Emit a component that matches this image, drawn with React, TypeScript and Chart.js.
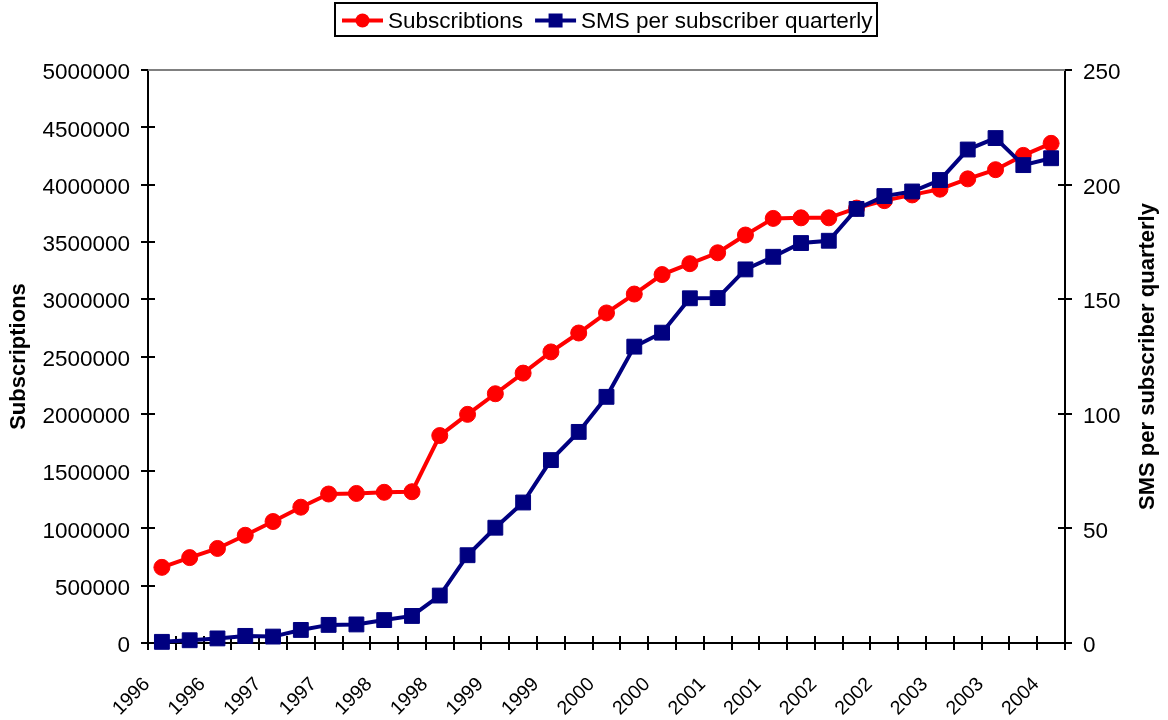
import React, { useEffect, useRef } from "react";
import { Chart, registerables } from "chart.js";

Chart.register(...registerables);

const FONT = "'Liberation Sans', Arial, Helvetica, sans-serif";
const FONT_SIZE = 22.5;
const X_FONT_SIZE = 19.5;

// one category per quarter, 1996 Q1 .. 2004 Q1
const quarterYears = [
  "1996", "1996", "1996", "1996",
  "1997", "1997", "1997", "1997",
  "1998", "1998", "1998", "1998",
  "1999", "1999", "1999", "1999",
  "2000", "2000", "2000", "2000",
  "2001", "2001", "2001", "2001",
  "2002", "2002", "2002", "2002",
  "2003", "2003", "2003", "2003",
  "2004",
];

const subscriptions = [
  660000, 745000, 825000, 940000, 1060000, 1185000, 1300000, 1305000,
  1315000, 1320000, 1810000, 1995000, 2175000, 2355000, 2540000, 2705000,
  2880000, 3045000, 3215000, 3310000, 3405000, 3560000, 3705000, 3710000,
  3710000, 3795000, 3860000, 3910000, 3960000, 4050000, 4130000, 4255000,
  4360000,
];

const smsPerSubscriber = [
  0.5, 1.2, 2, 3.1, 2.8, 5.7, 7.9, 8.1,
  10, 11.8, 20.7, 38.3, 50.3, 61.3, 79.8, 92.1,
  107.4, 129.3, 135.4, 150.4, 150.5, 163, 168.5, 174.5,
  175.5, 189.4, 195, 197, 202, 215.3, 220.3, 208.5,
  211.5,
];

const seriesNames = ["Subscribtions", "SMS per subscriber quarterly"];
const leftTitle = "Subscriptions";
const rightTitle = "SMS per subscriber quarterly";
const leftAxisMax = 5000000;
const leftAxisStep = 500000;
const rightAxisMax = 250;
const rightAxisStep = 50;

const RED = "#FF0000";
const NAVY = "#000080";

const innerTicksPlugin = {
  id: "innerTicks",
  beforeDatasetsDraw(chart: any) {
    const { ctx, chartArea } = chart;
    const xs = chart.scales.x;
    const yl = chart.scales.y;
    const yr = chart.scales.y1;
    ctx.save();
    ctx.strokeStyle = "#000";
    ctx.lineWidth = 2;
    ctx.beginPath();
    for (let i = 0; i <= quarterYears.length; i++) {
      const px = Math.round(xs.getPixelForValue(i - 0.5));
      ctx.moveTo(px, chartArea.bottom);
      ctx.lineTo(px, chartArea.bottom - 7);
    }
    yl.ticks.forEach((_t: any, i: number) => {
      const py = Math.round(yl.getPixelForTick(i));
      ctx.moveTo(chartArea.left, py);
      ctx.lineTo(chartArea.left + 7, py);
    });
    yr.ticks.forEach((_t: any, i: number) => {
      const py = Math.round(yr.getPixelForTick(i));
      ctx.moveTo(chartArea.right, py);
      ctx.lineTo(chartArea.right - 7, py);
    });
    ctx.stroke();
    // top frame line
    ctx.strokeStyle = "#808080";
    ctx.lineWidth = 2;
    ctx.beginPath();
    ctx.moveTo(chartArea.left, chartArea.top);
    ctx.lineTo(chartArea.right, chartArea.top);
    ctx.stroke();
    ctx.restore();
  },
};

const titlesAndLegendPlugin = {
  id: "titlesAndLegend",
  afterDraw(chart: any) {
    const { ctx, chartArea } = chart;
    const midY = (chartArea.top + chartArea.bottom) / 2;
    ctx.save();
    ctx.fillStyle = "#000";
    ctx.font = `bold 22px ${FONT}`;
    ctx.textAlign = "center";
    ctx.textBaseline = "middle";
    // left axis title
    ctx.save();
    ctx.translate(19, midY);
    ctx.rotate(-Math.PI / 2);
    ctx.fillText(leftTitle, 0, 0);
    ctx.restore();
    // right axis title (reads upward)
    ctx.save();
    ctx.translate(chart.width - 20, midY);
    ctx.rotate(-Math.PI / 2);
    ctx.fillText(rightTitle, 0, 0);
    ctx.restore();

    // legend
    ctx.font = `${FONT_SIZE}px ${FONT}`;
    const datasets = chart.data.datasets;
    const lineLen = 41;
    const gapAfterLine = 5;
    const gapBetween = 12;
    const padL = 7;
    const padR = 5;
    const widths = datasets.map((d: any) => ctx.measureText(d.label).width);
    let total = padL + padR + gapBetween * (datasets.length - 1);
    datasets.forEach((_d: any, i: number) => {
      total += lineLen + gapAfterLine + widths[i];
    });
    const cx = (chartArea.left + chartArea.right) / 2;
    const boxTop = 3;
    const boxH = 33;
    let x = Math.round(cx - total / 2);
    ctx.strokeStyle = "#000";
    ctx.lineWidth = 2;
    ctx.strokeRect(x, boxTop, Math.round(total), boxH);
    x += padL;
    const markY = 20.5;
    datasets.forEach((d: any, i: number) => {
      ctx.strokeStyle = d.borderColor;
      ctx.fillStyle = d.borderColor;
      ctx.lineWidth = 4;
      ctx.beginPath();
      ctx.moveTo(x, markY);
      ctx.lineTo(x + lineLen, markY);
      ctx.stroke();
      const mx = x + lineLen / 2;
      ctx.beginPath();
      if (d.pointStyle === "rect") {
        ctx.rect(mx - 7, markY - 7, 14, 14);
      } else {
        ctx.arc(mx, markY, 7, 0, Math.PI * 2);
      }
      ctx.fill();
      ctx.fillStyle = "#000";
      ctx.textAlign = "left";
      ctx.textBaseline = "middle";
      ctx.fillText(d.label, x + lineLen + gapAfterLine, 22);
      x += lineLen + gapAfterLine + widths[i] + gapBetween;
    });
    ctx.restore();
  },
};

export default function App() {
  const canvasRef = useRef<HTMLCanvasElement | null>(null);

  useEffect(() => {
    document.body.style.margin = "0";
    const canvas = canvasRef.current;
    if (!canvas) return;
    const tickFont = { family: FONT, size: FONT_SIZE };
    const chart = new Chart(canvas, {
      type: "line",
      data: {
        labels: quarterYears,
        datasets: [
          {
            label: seriesNames[0],
            data: subscriptions,
            yAxisID: "y",
            borderColor: RED,
            backgroundColor: RED,
            pointBackgroundColor: RED,
            pointBorderColor: RED,
            pointBorderWidth: 1,
            pointStyle: "circle",
            pointRadius: 8,
            borderWidth: 4,
            tension: 0,
            clip: false,
            order: 2,
          },
          {
            label: seriesNames[1],
            data: smsPerSubscriber,
            yAxisID: "y1",
            borderColor: NAVY,
            backgroundColor: NAVY,
            pointBackgroundColor: NAVY,
            pointBorderColor: NAVY,
            pointBorderWidth: 1,
            pointStyle: "rect",
            pointRadius: 10.5,
            borderWidth: 4,
            tension: 0,
            clip: false,
            order: 1,
          },
        ],
      },
      options: {
        responsive: false,
        animation: false,
        devicePixelRatio: 1,
        layout: { padding: { top: 70, left: 0, right: 0, bottom: 0 } },
        plugins: {
          legend: { display: false },
          tooltip: { enabled: false },
        },
        scales: {
          x: {
            type: "category",
            offset: true,
            grid: {
              display: true,
              drawOnChartArea: false,
              drawTicks: true,
              tickLength: 7,
              offset: true,
              color: "#000",
              lineWidth: 2,
            },
            border: { display: true, color: "#000", width: 2 },
            ticks: {
              autoSkip: false,
              minRotation: 45,
              maxRotation: 45,
              padding: 23,
              labelOffset: -15,
              color: "#000",
              font: { family: FONT, size: X_FONT_SIZE },
              callback: (_v: any, index: number) =>
                index % 2 === 0 ? quarterYears[index] : "",
            },
            afterFit: (scale: any) => {
              scale.height = 77;
            },
          },
          y: {
            type: "linear",
            position: "left",
            min: 0,
            max: leftAxisMax,
            grid: {
              display: true,
              drawOnChartArea: false,
              drawTicks: true,
              tickLength: 7,
              color: "#000",
              lineWidth: 2,
            },
            border: { display: true, color: "#000", width: 2 },
            ticks: {
              stepSize: leftAxisStep,
              padding: 11,
              labelOffset: 3,
              color: "#000",
              font: tickFont,
              callback: (v: any) => String(v),
            },
            afterFit: (scale: any) => {
              scale.width = 148;
            },
          },
          y1: {
            type: "linear",
            position: "right",
            min: 0,
            max: rightAxisMax,
            grid: {
              display: true,
              drawOnChartArea: false,
              drawTicks: true,
              tickLength: 7,
              color: "#000",
              lineWidth: 2,
            },
            border: { display: true, color: "#000", width: 2 },
            ticks: {
              stepSize: rightAxisStep,
              padding: 11,
              labelOffset: 3,
              color: "#000",
              font: tickFont,
              callback: (v: any) => String(v),
            },
            afterFit: (scale: any) => {
              scale.width = 103;
            },
          },
        },
      },
      plugins: [innerTicksPlugin, titlesAndLegendPlugin],
    } as any);
    return () => {
      chart.destroy();
    };
  }, []);

  return (
    <div style={{ width: 1168, height: 720, position: "relative" }}>
      <canvas ref={canvasRef} width={1168} height={720} style={{ display: "block" }} />
    </div>
  );
}
